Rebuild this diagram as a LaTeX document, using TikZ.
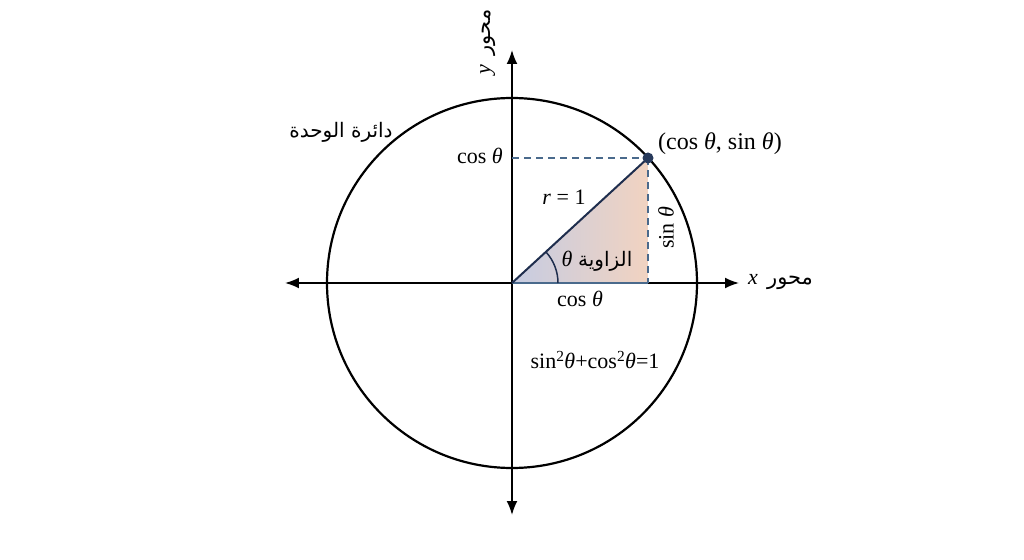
\documentclass[tikz,border=0pt]{standalone}
\usepackage{fontspec}
\setmainfont{Liberation Serif}
\newfontfamily\arabicfont[Script=Arabic]{DejaVu Sans}
\TeXXeTstate=1
\usetikzlibrary{arrows.meta}
\definecolor{navy}{HTML}{1F2E4E}
\definecolor{dashblue}{HTML}{4A6A8C}
\definecolor{shadeL}{HTML}{C6CCE2}
\definecolor{shadeR}{HTML}{F1D3C1}
\newcommand{\thet}{\textit{θ}}
\tikzset{
  axis/.style={line width=1.8pt,-{Latex[length=14pt,width=11pt]}},
  guide/.style={dashblue,line width=1.4pt,dash pattern=on 7pt off 5pt},
  lbl/.style={font=\fontsize{22}{26}\selectfont,inner sep=0pt},
  arlbl/.style={font=\fontsize{20}{24}\selectfont\arabicfont,inner sep=0pt}
}
\begin{document}
\begin{tikzpicture}[x=1pt,y=1pt]
\useasboundingbox (-512,-276) rectangle (512,283);
\coordinate (O) at (0,0);
\coordinate (P) at (136,125);
\coordinate (F) at (136,0);
\coordinate (Y) at (0,125);
% shaded triangle
\shade[left color=shadeL,right color=shadeR] (O) -- (F) -- (P) -- cycle;
% circle
\draw[line width=2.2pt] (O) circle[radius=185];
% axes
\coordinate (xl) at (-227,0);
\coordinate (xr) at (227,0);
\coordinate (yt) at (0,233);
\coordinate (yb) at (0,-232);
\draw[axis] (O) -- (xr);
\draw[axis] (O) -- (xl);
\draw[axis] (O) -- (yt);
\draw[axis] (O) -- (yb);
% triangle edges
\draw[dashblue,line width=1.6pt] (O) -- (F);
\draw[guide] (Y) -- (P);
\draw[guide] (P) -- (F);
\draw[navy,line width=2pt] (O) -- (P);
% angle arc
\draw[navy,line width=1.5pt] (46,0) arc[start angle=0,end angle=42.6,radius=46];
\fill[navy!80!dashblue] (P) circle[radius=5.5];
% labels
\node[lbl,rotate=90] (ylab) at (-24,241) {\textit{y}\, {\fontsize{21}{24}\selectfont\arabicfont\beginR محور\endR}};
\node[lbl,anchor=west] (xlab) at (236,1) {\textit{x}\, {\fontsize{21}{24}\selectfont\arabicfont\beginR محور\endR}};
\node[arlbl] (unit) at (-171,151) {\beginR دائرة الوحدة\endR};
\node[lbl,anchor=east] (cy) at (-9,127) {cos \thet};
\node[lbl,anchor=west,font=\fontsize{24}{27}\selectfont] (pt) at (146,139) {(cos \thet, sin \thet)};
\node[lbl] (r) at (52,86) {\textit{r} = 1};
\node[lbl,rotate=90] (s) at (154,55) {sin \thet};
\node[lbl] (th) at (55,24) {\thet};
\node[arlbl,anchor=west] (ang) at (66,22) {\beginR الزاوية\endR};
\node[lbl] (cx) at (68,-16) {cos \thet};
\node[lbl] (id) at (83,-77) {sin\textsuperscript{2}\thet+cos\textsuperscript{2}\thet=1};
\end{tikzpicture}
\end{document}
